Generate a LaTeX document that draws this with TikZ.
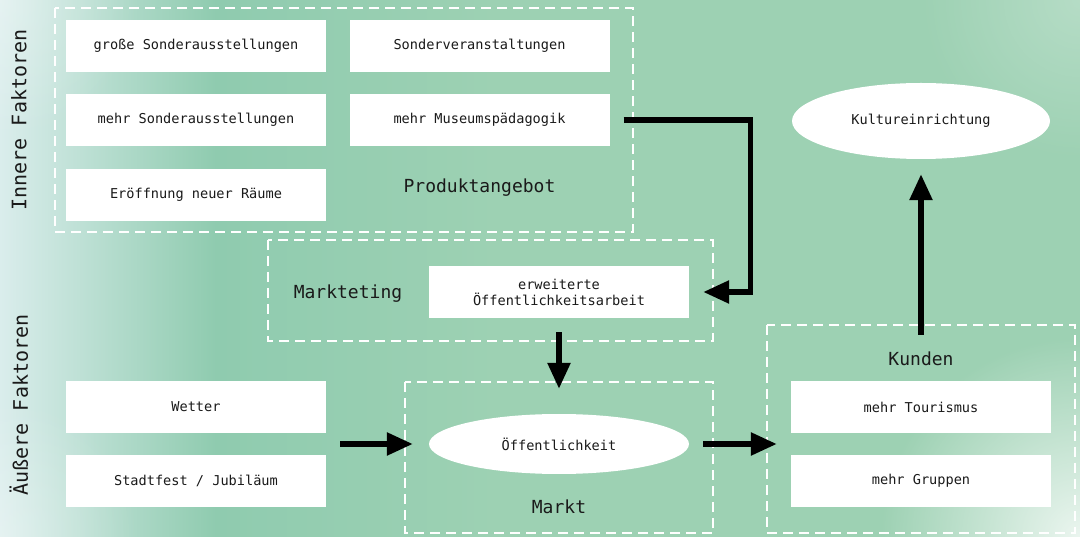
\documentclass[tikz,border=0pt]{standalone}
\usepackage{fontspec}
\setmainfont{DejaVu Sans Mono}
\usetikzlibrary{arrows.meta}
\usetikzlibrary{shapes.geometric}
\usetikzlibrary{fadings}

\definecolor{bgmint}{HTML}{9DD1B3}
\definecolor{bgteal}{HTML}{8FCBAF}
\definecolor{bgpale}{HTML}{DAEDEC}
\definecolor{inktext}{HTML}{1A1A1A}

% the picture spans 25bp..75bp of the shading
\pgfdeclarehorizontalshading{backdrop}{100bp}{color(0bp)=(bgpale); color(25bp)=(bgpale);
  color(26.5bp)=(bgpale!85!bgteal); color(35bp)=(bgteal); color(48bp)=(bgmint); color(100bp)=(bgmint)}
\tikzfading[name=softspot, inner color=transparent!0, outer color=transparent!100]

\tikzset{
  factorbox/.style={shape=rectangle, fill=white, minimum width=260pt, minimum height=52pt,
    inner sep=0pt, align=center, text=inktext, font=\fontsize{13.6}{16}\selectfont},
  factoroval/.style={shape=ellipse, fill=white, inner sep=0pt, text=inktext,
    font=\fontsize{13.6}{16}\selectfont},
  groupframe/.style={draw=white, line width=2pt, dash pattern=on 10pt off 6pt},
  grouplabel/.style={text=inktext, font=\fontsize{18}{20}\selectfont},
  sidelabel/.style={text=inktext, rotate=90, font=\fontsize{20}{22}\selectfont},
  flow/.style={line width=5.5pt, -{Triangle[length=26pt,width=22pt]}},
}

\begin{document}
\begin{tikzpicture}[x=1pt, y=-1pt]
    \useasboundingbox (0,0) rectangle (1080,537);
    \clip (0,0) rectangle (1080,537);
    % background
    \shade[shading=backdrop] (0,0) rectangle (1080,537);
    \fill[white, opacity=.8, path fading=softspot] (1080,537) circle (200);
    \fill[white, opacity=.25, path fading=softspot] (1080,0) circle (160);
    \fill[white, opacity=.3, path fading=softspot] (0,0) circle (140);
    \fill[white, opacity=.3, path fading=softspot] (0,537) circle (140);

	% dashed groups
	\draw[groupframe] (55,8) rectangle (633,232);
	\draw[groupframe] (268,240) rectangle (713,341);
	\draw[groupframe] (405,382) rectangle (713,533);
	\draw[groupframe] (767,325) rectangle (1075,533);

	% side labels
	\node (inner) at (19,120) [sidelabel] {Innere Faktoren};
	\node (outer) at (19,405) [sidelabel] {Äußere Faktoren};

	% Produktangebot
	\node (grossaus) at (196,46) [factorbox] {große Sonderausstellungen};
	\node (sonderver) at (479.5,46) [factorbox] {Sonderveranstaltungen};
	\node (mehraus) at (196,120) [factorbox] {mehr Sonderausstellungen};
	\node (museum) at (479.5,120) [factorbox] {mehr Museumspädagogik};
	\node (raeume) at (196,195) [factorbox] {Eröffnung neuer Räume};
	\node (produkt) at (479.5,188) [grouplabel] {Produktangebot};

	% Marketing
	\node (marketing) at (348,294) [grouplabel] {Markteting};
	\node (pr) at (559,292) [factorbox] {erweiterte\\Öffentlichkeitsarbeit};

	% Markt
	\node (oeff) at (559,444) [factoroval, minimum width=260pt, minimum height=60pt] {Öffentlichkeit};
	\node (markt) at (559,507) [grouplabel] {Markt};
	\node (wetter) at (196,407) [factorbox] {Wetter};
	\node (stadtfest) at (196,481) [factorbox] {Stadtfest / Jubiläum};

	% Kunden
	\node (kunden) at (921,359) [grouplabel] {Kunden};
	\node (tourismus) at (921,407) [factorbox] {mehr Tourismus};
	\node (gruppen) at (921,481) [factorbox] {mehr Gruppen};
	\node (kultur) at (921,121) [factoroval, minimum width=258pt, minimum height=76pt] {Kultureinrichtung};

	% connectors
	\draw[flow] ([xshift=14pt]museum.east) -- ++(127,0) |- ([xshift=14pt]pr.east);
	\draw[flow] ([yshift=-14pt]pr.south) -- ([yshift=25pt]oeff.north);
	\draw[flow] ([xshift=14pt]wetter.east |- oeff.west) -- ([xshift=-16pt]oeff.west);
	\draw[flow] ([xshift=14pt]oeff.east) -- ([xshift=-14pt]tourismus.west |- oeff.east);
	\draw[flow] ([yshift=14pt]kunden.north) -- ([yshift=-15pt]kultur.south);
\end{tikzpicture}
\end{document}
